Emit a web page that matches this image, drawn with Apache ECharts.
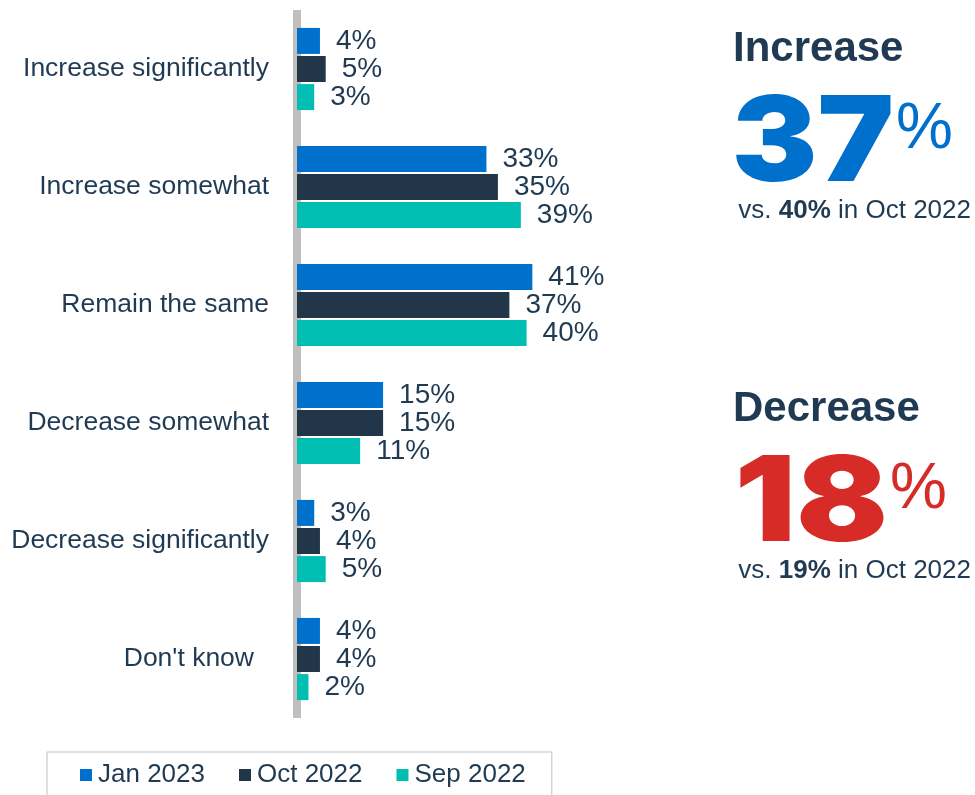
<!DOCTYPE html>
<html>
<head>
<meta charset="utf-8">
<script src="https://cdn.jsdelivr.net/npm/echarts@6/dist/echarts.min.js"></script>
<style>
  html, body { margin: 0; padding: 0; background: #ffffff; }
  #chart { width: 975px; height: 795px; }
</style>
</head>
<body>
<div id="chart"></div>
<script>
// Expected change in spending, by survey wave
const categories = ['Increase significantly', 'Increase somewhat', 'Remain the same',
                    'Decrease somewhat', 'Decrease significantly', "Don't know"];
const seriesNames = ['Jan 2023', 'Oct 2022', 'Sep 2022'];
const jan2023 = [4, 33, 41, 15, 3, 4];
const oct2022 = [5, 35, 37, 15, 4, 4];
const sep2022 = [3, 39, 40, 11, 5, 2];

const NAVY_TEXT = '#1F3A52';
const COLORS = ['#0070CD', '#22364A', '#00BFB2'];
const RED = '#D62B27';
const FONT = '"Liberation Sans", Arial, Helvetica, sans-serif';
const HEAVY = 'Inter, Roboto, Lato, "Noto Sans", sans-serif';

// Net totals: increase = significantly + somewhat, decrease = somewhat + significantly
const incNow = jan2023[0] + jan2023[1];
const incPrev = oct2022[0] + oct2022[1];
const decNow = jan2023[3] + jan2023[4];
const decPrev = oct2022[3] + oct2022[4];

const valuesBySeries = [jan2023, oct2022, sep2022];

const chart = echarts.init(document.getElementById('chart'), null, { renderer: 'canvas' });

const series = seriesNames.map((name, i) => ({
  name: name,
  type: 'bar',
  data: valuesBySeries[i],
  barWidth: 26,
  barGap: '8%',
  itemStyle: { color: COLORS[i] },
  label: {
    show: true,
    position: 'right',
    distance: 16,
    formatter: '{c}%',
    fontFamily: FONT,
    fontSize: 28,
    color: NAVY_TEXT
  },
  emphasis: { disabled: true }
}));

// Headline block: title, big total with a small raised "%", and comparison line
function headline(top, title, now, prev, color, numRight, stretch) {
  return [
    { type: 'text', x: 733, y: top,
      style: { text: title, fill: NAVY_TEXT, fontFamily: FONT, fontWeight: 'bold', fontSize: 42,
               align: 'left', verticalAlign: 'middle' } },
    { type: 'text', x: numRight, y: top + 97, scaleX: stretch,
      style: { text: String(now), fill: color, fontFamily: HEAVY, fontWeight: 900, fontSize: 118,
               align: 'right', verticalAlign: 'middle' } },
    { type: 'text', x: numRight + 2, y: top + 81,
      style: { text: '%', fill: color, fontFamily: FONT, fontSize: 64,
               align: 'left', verticalAlign: 'middle' } },
    { type: 'text', x: 971, y: top + 162,
      style: { text: '{a|vs. }{b|' + prev + '%}{a| in Oct 2022}', align: 'right', verticalAlign: 'middle',
               rich: {
                 a: { fill: NAVY_TEXT, fontFamily: FONT, fontSize: 26 },
                 b: { fill: NAVY_TEXT, fontFamily: FONT, fontSize: 26, fontWeight: 'bold' }
               } } }
  ];
}

chart.setOption({
  animation: false,
  backgroundColor: '#ffffff',
  grid: { left: 297, right: 391, top: 10, bottom: 77, containLabel: false },
  xAxis: { type: 'value', min: 0, max: 50, show: false },
  yAxis: {
    type: 'category',
    inverse: true,
    offset: 4,
    data: categories.map(c => c === "Don't know"
      ? { value: c, textStyle: { padding: [0, 15, 0, 0] } }
      : c),
    axisLine: { show: true, lineStyle: { color: '#BFBFBF', width: 8, cap: 'butt' } },
    axisTick: { show: false },
    splitLine: { show: false },
    axisLabel: { margin: 24, fontFamily: FONT, fontSize: 26.5, color: NAVY_TEXT }
  },
  legend: {
    data: seriesNames,
    left: 47, top: 752,
    padding: [10, 26, 40, 33],
    borderColor: '#BFBFBF', borderWidth: 1,
    icon: 'rect', itemWidth: 12, itemHeight: 12, itemGap: 34,
    selectedMode: false,
    textStyle: { fontFamily: FONT, fontSize: 26, color: NAVY_TEXT, padding: [0, 0, 0, 1] }
  },
  graphic: headline(49, 'Increase', incNow, incPrev, COLORS[0], 894, 1.09)
    .concat(headline(409, 'Decrease', decNow, decPrev, RED, 888, 1.15)),
  series: series
});
</script>
</body>
</html>
